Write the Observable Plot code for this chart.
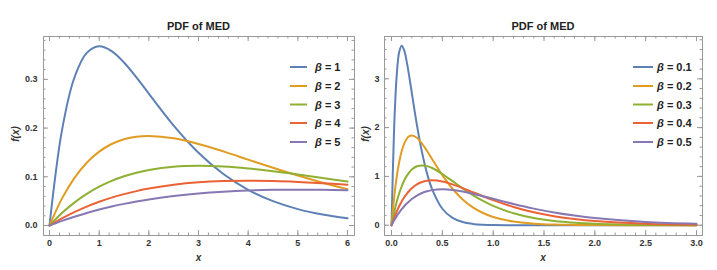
<!DOCTYPE html>
<html>
<head>
<meta charset="utf-8">
<script src="https://cdn.jsdelivr.net/npm/d3@7"></script>
<script src="https://cdn.jsdelivr.net/npm/@observablehq/plot@0.6"></script>
<style>
  html, body { margin: 0; padding: 0; background: #fff; }
  #wrap { display: flex; width: 717px; height: 270px; }
  svg { font-family: "Liberation Sans", Arial, sans-serif; flex: none; }
</style>
</head>
<body>
<div id="wrap"></div>
<script>
// ---------- Data ----------
const colors = ["#5E81B5", "#E19C24", "#8FB032", "#EB6235", "#8778B3"];

// Left panel
const xLeft = [0, 0.25, 0.5, 0.75, 1, 1.25, 1.5, 1.75, 2, 2.5, 3, 3.5, 4, 4.5, 5, 5.5, 6];
const betaLeft = ["1", "2", "3", "4", "5"];
const yL1 = [0, 0.1947, 0.3033, 0.3543, 0.3679, 0.3581, 0.3347, 0.3041, 0.2707, 0.2052, 0.1494, 0.1057, 0.0733, 0.0500, 0.0337, 0.0225, 0.0149];
const yL2 = [0, 0.0552, 0.0974, 0.1289, 0.1516, 0.1673, 0.1771, 0.1824, 0.1839, 0.1791, 0.1673, 0.1521, 0.1353, 0.1186, 0.1026, 0.0879, 0.0747];
const yL3 = [0, 0.0256, 0.0470, 0.0649, 0.0796, 0.0916, 0.1011, 0.1085, 0.1141, 0.1207, 0.1226, 0.1211, 0.1172, 0.1116, 0.1049, 0.0977, 0.0902];
const yL4 = [0, 0.0147, 0.0276, 0.0389, 0.0487, 0.0572, 0.0644, 0.0706, 0.0758, 0.0836, 0.0886, 0.0912, 0.0920, 0.0913, 0.0895, 0.0869, 0.0837];
const yL5 = [0, 0.0095, 0.0181, 0.0258, 0.0327, 0.0389, 0.0444, 0.0493, 0.0536, 0.0607, 0.0659, 0.0695, 0.0719, 0.0732, 0.0736, 0.0732, 0.0723];
const xTicksLeft = [0, 1, 2, 3, 4, 5, 6];
const yTicksLeft = [0, 0.1, 0.2, 0.3];
const yTickLabelsLeft = ["0.0", "0.1", "0.2", "0.3"];

// Right panel
const xRight = [0, 0.025, 0.05, 0.075, 0.1, 0.125, 0.15, 0.175, 0.2, 0.25, 0.3, 0.35, 0.4, 0.5, 0.6, 0.7, 0.8, 0.9, 1.0, 1.2, 1.4, 1.6, 1.8, 2.0, 2.5, 3.0];
const betaRight = ["0.1", "0.2", "0.3", "0.4", "0.5"];
const yR1 = [0, 1.947, 3.033, 3.543, 3.679, 3.581, 3.347, 3.041, 2.707, 2.052, 1.494, 1.057, 0.733, 0.337, 0.149, 0.064, 0.027, 0.011, 0.0045, 0.0007, 0.0001, 0, 0, 0, 0, 0];
const yR2 = [0, 0.552, 0.974, 1.289, 1.516, 1.673, 1.771, 1.824, 1.839, 1.791, 1.673, 1.521, 1.353, 1.026, 0.747, 0.528, 0.366, 0.250, 0.168, 0.074, 0.032, 0.013, 0.006, 0.002, 0.0002, 0];
const yR3 = [0, 0.256, 0.470, 0.649, 0.796, 0.916, 1.011, 1.085, 1.141, 1.207, 1.226, 1.211, 1.172, 1.049, 0.902, 0.754, 0.618, 0.498, 0.396, 0.244, 0.146, 0.086, 0.050, 0.028, 0.0067, 0.0015];
const yR4 = [0, 0.147, 0.276, 0.389, 0.487, 0.572, 0.644, 0.706, 0.758, 0.836, 0.886, 0.912, 0.920, 0.895, 0.837, 0.760, 0.677, 0.593, 0.513, 0.373, 0.264, 0.183, 0.125, 0.084, 0.030, 0.0104];
const yR5 = [0, 0.095, 0.181, 0.258, 0.327, 0.389, 0.444, 0.493, 0.536, 0.607, 0.659, 0.695, 0.719, 0.736, 0.723, 0.690, 0.646, 0.595, 0.541, 0.435, 0.340, 0.261, 0.197, 0.147, 0.067, 0.030];
const xTicksRight = [0, 0.5, 1, 1.5, 2, 2.5, 3];
const xTickLabelsRight = ["0.0", "0.5", "1.0", "1.5", "2.0", "2.5", "3.0"];
const yTicksRight = [0, 1, 2, 3];
const yTickLabelsRight = ["0", "1", "2", "3"];

const titleText = "PDF of MED";

// ---------- Helpers ----------
function toRows(xs, seriesList, names) {
  const rows = [];
  seriesList.forEach((ys, k) => ys.forEach((y, i) => rows.push({x: xs[i], y, s: names[k]})));
  return rows;
}
function minors(lo, hi, step) {
  const out = [];
  const n = Math.round((hi - lo) / step);
  for (let i = 0; i <= n; i++) out.push(+(lo + i * step).toFixed(6));
  return out;
}

function panel(cfg) {
  const fh = cfg.height - cfg.mt - cfg.mb;
  const fw = cfg.width - cfg.ml - cfg.mr;
  const rows = toRows(cfg.xs, cfg.series, cfg.names);
  const tickColor = "#999";
  const svg = Plot.plot({
    width: cfg.width,
    height: cfg.height,
    marginLeft: cfg.ml, marginRight: cfg.mr, marginTop: cfg.mt, marginBottom: cfg.mb,
    style: {fontFamily: "Liberation Sans, Arial, sans-serif", background: "#fff"},
    x: {domain: cfg.xDomain, axis: null},
    y: {domain: cfg.yDomain, axis: null},
    color: {domain: cfg.names, range: colors},
    marks: [
      // frame ticks (inward), bottom/top major & minor
      Plot.ruleX(cfg.xMinor, {stroke: tickColor, insetTop: fh - 2.5}),
      Plot.ruleX(cfg.xMinor, {stroke: tickColor, insetBottom: fh - 2.5}),
      Plot.ruleX(cfg.xMajor, {stroke: tickColor, insetTop: fh - 5}),
      Plot.ruleX(cfg.xMajor, {stroke: tickColor, insetBottom: fh - 5}),
      Plot.ruleY(cfg.yMinor, {stroke: tickColor, insetRight: fw - 2.5}),
      Plot.ruleY(cfg.yMinor, {stroke: tickColor, insetLeft: fw - 2.5}),
      Plot.ruleY(cfg.yMajor, {stroke: tickColor, insetRight: fw - 5}),
      Plot.ruleY(cfg.yMajor, {stroke: tickColor, insetLeft: fw - 5}),
      Plot.frame({stroke: "#9a9a9a", strokeWidth: 1}),
      Plot.line(rows, {x: "x", y: "y", z: "s", stroke: "s", strokeWidth: 2, curve: "catmull-rom"}),
      Plot.axisX({ticks: cfg.xMajor, tickSize: 0, tickPadding: 4, fontSize: 9, fontWeight: "bold", fill: "#333",
                  tickFormat: (d, i) => cfg.xLabels[i], label: null}),
      Plot.axisY({ticks: cfg.yMajor, tickSize: 0, tickPadding: cfg.yPad, fontSize: 9, fontWeight: "bold", fill: "#333",
                  tickFormat: (d, i) => cfg.yLabels[i], label: null})
    ]
  });
  const s = d3.select(svg);
  // Title
  s.append("text").attr("x", cfg.ml + fw / 2).attr("y", 30).attr("text-anchor", "middle")
    .attr("font-size", 11).attr("font-weight", "bold").attr("fill", "#222").text(titleText);
  // x axis label
  s.append("text").attr("x", cfg.ml + fw / 2).attr("y", 261).attr("text-anchor", "middle")
    .attr("font-size", 10).attr("font-style", "italic").attr("font-weight", "bold").attr("fill", "#333").text("x");
  // y axis label
  s.append("text").attr("transform", `translate(${cfg.yLabelX},134) rotate(-90)`).attr("text-anchor", "middle")
    .attr("font-size", 10).attr("font-style", "italic").attr("font-weight", "bold").attr("fill", "#333").text("f(x)");
  // Legend
  const rowsY = [67, 86, 104.5, 123, 142];
  cfg.names.forEach((n, i) => {
    const g = s.append("g");
    g.append("line").attr("x1", cfg.legX1).attr("x2", cfg.legX2).attr("y1", rowsY[i]).attr("y2", rowsY[i])
      .attr("stroke", colors[i]).attr("stroke-width", 2);
    const t = g.append("text").attr("x", cfg.legText).attr("y", rowsY[i] + 4).attr("text-anchor", "start")
      .attr("font-size", 11).attr("font-weight", "bold").attr("fill", "#222");
    t.append("tspan").attr("font-style", "italic").text("β");
    t.append("tspan").text(" = " + n);
  });
  return svg;
}

const wrap = document.getElementById("wrap");
wrap.appendChild(panel({
  width: 358, height: 270, ml: 43, mr: 4, mt: 36, mb: 35,
  xDomain: [-0.121, 6.141], yDomain: [-0.0205, 0.388],
  xs: xLeft, series: [yL1, yL2, yL3, yL4, yL5], names: betaLeft,
  xMajor: xTicksLeft, xLabels: xTicksLeft.map(String), xMinor: minors(0, 6, 0.2),
  yMajor: yTicksLeft, yLabels: yTickLabelsLeft, yMinor: minors(0, 0.38, 0.02), yPad: 6,
  yLabelX: 18.5, legX1: 290, legX2: 307, legText: 315
}));
wrap.appendChild(panel({
  width: 359, height: 270, ml: 26, mr: 15, mt: 36, mb: 35,
  xDomain: [-0.069, 3.059], yDomain: [-0.211, 3.867],
  xs: xRight, series: [yR1, yR2, yR3, yR4, yR5], names: betaRight,
  xMajor: xTicksRight, xLabels: xTickLabelsRight, xMinor: minors(0, 3, 0.1),
  yMajor: yTicksRight, yLabels: yTickLabelsRight, yMinor: minors(0, 3.8, 0.2), yPad: 5,
  yLabelX: 11, legX1: 633 - 358, legX2: 653 - 358, legText: 657 - 358
}));
</script>
</body>
</html>
